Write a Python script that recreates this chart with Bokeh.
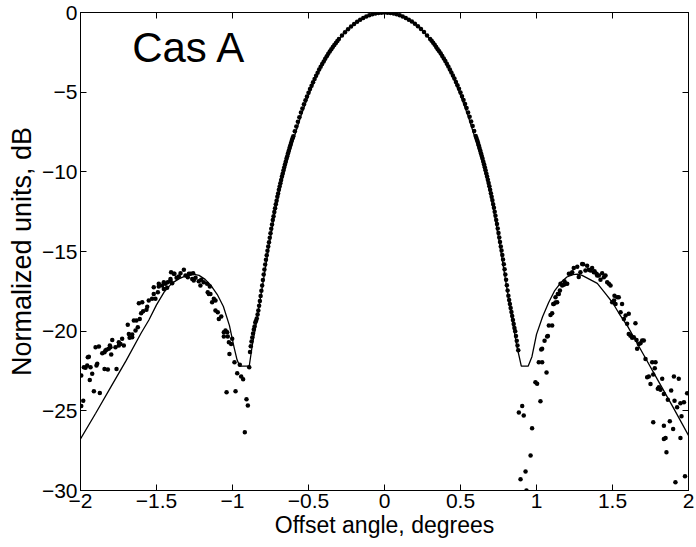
from bokeh.plotting import figure
from bokeh.models import (LinearAxis, FixedTicker, CustomJSTickFormatter, Range1d, Label,
                          CustomLabelingPolicy)
from bokeh.embed import file_html
from bokeh.resources import INLINE

# ---------------- data ----------------
x_ticks = [-2, -1.5, -1, -0.5, 0, 0.5, 1, 1.5, 2]
y_ticks = [-30, -25, -20, -15, -10, -5, 0]

# model beam (solid line)
model_x = [-2.00, -1.90, -1.80, -1.70, -1.60, -1.55, -1.50, -1.45, -1.40, -1.35, -1.30, -1.26,
           -1.22, -1.18, -1.14, -1.10, -1.06, -1.02, -0.99, -0.97, -0.952, -0.89,
           -0.87, -0.84, -0.80, -0.76, -0.72, -0.68, -0.64, -0.60, -0.55, -0.50, -0.45,
           -0.40, -0.35, -0.30, -0.25, -0.20, -0.15, -0.10, -0.05, 0.00,
           0.05, 0.10, 0.15, 0.20, 0.25, 0.30, 0.35, 0.40, 0.45, 0.50, 0.55, 0.60,
           0.64, 0.68, 0.72, 0.76, 0.80, 0.84, 0.87, 0.90,
           0.945, 0.97, 1.00, 1.04, 1.08, 1.12, 1.16, 1.20, 1.24, 1.27, 1.30, 1.35,
           1.40, 1.45, 1.50, 1.55, 1.60, 1.70, 1.80, 1.90, 2.00]
model_y = [-26.76, -25.15, -23.50, -21.85, -20.10, -19.30, -18.35, -17.55, -17.00, -16.70, -16.50, -16.42,
           -16.50, -16.75, -17.15, -17.70, -18.45, -19.65, -21.00, -21.80, -22.20, -22.20,
           -20.90, -19.30, -17.00, -14.65, -12.50, -10.75, -9.30, -8.00, -6.50, -5.20, -4.05,
           -3.10, -2.32, -1.68, -1.14, -0.72, -0.40, -0.18, -0.03, 0.00,
           -0.03, -0.18, -0.40, -0.72, -1.14, -1.68, -2.32, -3.10, -4.05, -5.20, -6.50, -8.00,
           -9.30, -10.75, -12.50, -14.65, -17.00, -19.30, -20.90, -22.20,
           -22.20, -21.60, -20.20, -19.10, -18.20, -17.45, -16.95, -16.60, -16.45, -16.42, -16.50, -16.75,
           -17.00, -17.60, -18.20, -19.00, -19.70, -21.40, -23.10, -24.80, -26.55]

# measured points: main lobe, right half
lobe_r_x = [0.00, 0.02, 0.04, 0.06, 0.08, 0.10, 0.12, 0.14, 0.16, 0.18, 0.20, 0.22, 0.24, 0.26, 0.28,
            0.30, 0.31, 0.32, 0.33, 0.34, 0.35, 0.36, 0.37, 0.38, 0.39, 0.40, 0.41, 0.42, 0.43, 0.44,
            0.45, 0.46, 0.47, 0.48, 0.49, 0.50, 0.51, 0.52, 0.53, 0.54, 0.55, 0.56, 0.57, 0.58, 0.59,
            0.60, 0.605, 0.61, 0.615, 0.62, 0.625, 0.63, 0.635, 0.64, 0.645, 0.65, 0.655, 0.66, 0.665,
            0.67, 0.675, 0.68, 0.685, 0.69, 0.695, 0.70, 0.705, 0.71, 0.715, 0.72, 0.725, 0.73, 0.735,
            0.74, 0.745, 0.75, 0.755, 0.76, 0.765, 0.77, 0.775, 0.78, 0.785, 0.79, 0.795, 0.80, 0.805,
            0.81, 0.815, 0.82, 0.825, 0.83, 0.835, 0.84, 0.845, 0.85, 0.855, 0.86, 0.865, 0.87, 0.875, 0.88]
lobe_r_y = [0.00, -0.01, -0.03, -0.06, -0.11, -0.17, -0.25, -0.34, -0.45, -0.57, -0.71, -0.87, -1.04, -1.23, -1.44,
            -1.66, -1.78, -1.90, -2.03, -2.16, -2.30, -2.43, -2.58, -2.73, -2.89, -3.05, -3.22, -3.39, -3.57, -3.76,
            -3.95, -4.15, -4.36, -4.57, -4.79, -5.02, -5.25, -5.49, -5.74, -6.00, -6.27, -6.55, -6.84, -7.13, -7.44,
            -7.75, -7.88, -8.02, -8.18, -8.33, -8.50, -8.66, -8.83, -9.00, -9.17, -9.35, -9.53, -9.71, -9.90,
            -10.10, -10.29, -10.49, -10.70, -10.90, -11.12, -11.34, -11.56, -11.79, -12.03, -12.26, -12.51, -12.76, -13.02,
            -13.28, -13.56, -13.84, -14.12, -14.40, -14.68, -14.94, -15.22, -15.50, -15.80, -16.11, -16.44, -16.77, -17.12,
            -17.45, -17.78, -18.05, -18.30, -18.55, -18.80, -19.05, -19.30, -19.55, -19.80, -20.00, -20.30, -20.60, -20.90, -21.20]

# measured points: main lobe, left half
lobe_l_x = [-0.02, -0.04, -0.06, -0.08, -0.10, -0.12, -0.14, -0.16, -0.18, -0.20, -0.22, -0.24, -0.26, -0.28,
            -0.30, -0.31, -0.32, -0.33, -0.34, -0.35, -0.36, -0.37, -0.38, -0.39, -0.40, -0.41, -0.42, -0.43, -0.44,
            -0.45, -0.46, -0.47, -0.48, -0.49, -0.50, -0.51, -0.52, -0.53, -0.54, -0.55, -0.56, -0.57, -0.58, -0.59,
            -0.60, -0.605, -0.61, -0.615, -0.62, -0.625, -0.63, -0.635, -0.64, -0.645, -0.65, -0.655, -0.66, -0.665,
            -0.67, -0.675, -0.68, -0.685, -0.69, -0.695, -0.70, -0.705, -0.71, -0.715, -0.72, -0.725, -0.73, -0.735,
            -0.74, -0.745, -0.75, -0.755, -0.76, -0.765, -0.77, -0.775, -0.78, -0.785, -0.79, -0.795, -0.80, -0.805,
            -0.81, -0.815, -0.82, -0.825, -0.83, -0.835, -0.84, -0.845, -0.85, -0.855, -0.86, -0.865, -0.87, -0.875,
            -0.88, -0.885, -0.89]
lobe_l_y = [-0.01, -0.03, -0.07, -0.11, -0.18, -0.25, -0.35, -0.45, -0.58, -0.72, -0.88, -1.05, -1.24, -1.45,
            -1.67, -1.79, -1.92, -2.04, -2.17, -2.31, -2.45, -2.59, -2.75, -2.90, -3.07, -3.23, -3.41, -3.58, -3.78,
            -3.97, -4.17, -4.37, -4.59, -4.80, -5.04, -5.27, -5.50, -5.76, -6.02, -6.28, -6.57, -6.85, -7.15, -7.45,
            -7.77, -7.90, -8.04, -8.19, -8.35, -8.51, -8.68, -8.84, -9.02, -9.18, -9.37, -9.54, -9.73, -9.92,
            -10.12, -10.30, -10.51, -10.71, -10.92, -11.13, -11.36, -11.57, -11.81, -12.04, -12.28, -12.52, -12.78, -13.03,
            -13.30, -13.57, -13.86, -14.13, -14.42, -14.69, -14.96, -15.23, -15.52, -15.81, -16.13, -16.45, -16.79, -17.13,
            -17.47, -17.80, -18.10, -18.40, -18.70, -18.95, -19.20, -19.35, -19.45, -19.70, -19.90, -20.15, -20.40, -20.65,
            -20.95, -21.30, -22.27]

# measured points: left side lobe and null
side_l_x = [-1.995, -1.995, -1.982, -1.978, -1.967, -1.956, -1.952, -1.945, -1.939, -1.934, -1.923, -1.912,
            -1.901, -1.895, -1.890, -1.879, -1.873, -1.857, -1.842, -1.842, -1.836, -1.829, -1.820, -1.814,
            -1.807, -1.803, -1.798, -1.791, -1.770, -1.763, -1.748, -1.748, -1.737, -1.726, -1.715, -1.689,
            -1.682, -1.677, -1.660, -1.660, -1.649, -1.638, -1.632, -1.623, -1.616, -1.610, -1.601, -1.594,
            -1.588, -1.566, -1.561, -1.551, -1.529, -1.518, -1.518, -1.507, -1.491, -1.485, -1.485, -1.463,
            -1.452, -1.452, -1.441, -1.430, -1.426, -1.408, -1.408, -1.404, -1.397, -1.386, -1.382, -1.368,
            -1.353, -1.342, -1.320, -1.309, -1.294, -1.287, -1.276, -1.265, -1.259, -1.255, -1.243, -1.222,
            -1.211, -1.206, -1.189, -1.167, -1.163, -1.156, -1.149, -1.145, -1.134, -1.123, -1.112, -1.112,
            -1.097, -1.090, -1.074, -1.057, -1.057, -1.046, -1.039, -1.035, -1.031, -1.024, -1.020, -1.009,
            -1.002, -0.987, -0.980, -0.969, -0.952, -0.943, -0.930, -0.919, -0.908, -0.899]
side_l_y = [-22.79, -24.70, -24.36, -22.27, -22.30, -22.16, -21.64, -21.60, -23.06, -22.27, -22.68, -23.77,
            -21.01, -22.16, -22.05, -20.97, -23.88, -21.39, -22.37, -21.32, -21.22, -21.17, -22.41, -21.11,
            -20.90, -21.01, -21.47, -20.55, -21.01, -22.37, -20.70, -20.90, -20.80, -20.48, -20.90, -19.59,
            -20.17, -20.42, -20.21, -20.38, -19.33, -19.96, -19.33, -19.75, -18.25, -19.23, -18.88, -18.19,
            -18.75, -18.66, -18.46, -18.08, -17.97, -17.66, -17.24, -17.97, -17.56, -17.20, -17.03, -17.14,
            -17.35, -16.93, -17.03, -17.28, -16.93, -16.82, -16.72, -16.30, -16.99, -16.40, -16.40, -16.65,
            -16.57, -16.36, -16.15, -16.51, -16.61, -16.40, -16.40, -16.72, -16.36, -16.82, -16.65, -16.87,
            -17.14, -16.78, -16.93, -17.03, -17.56, -17.66, -17.20, -17.66, -18.19, -17.97, -18.08, -18.70,
            -18.81, -19.23, -19.08, -20.07, -20.34, -19.96, -23.83, -20.07, -20.34, -20.70, -21.43, -20.80,
            -20.48, -21.95, -23.77, -22.64, -22.10, -22.85, -23.02, -26.35, -24.27, -24.67]

# measured points: right null and side lobe
side_r_x = [0.884, 0.895, 0.906, 0.916, 0.928, 0.934, 0.961, 0.971, 0.993, 1.004, 1.015, 1.026, 1.031,
            1.037, 1.037, 1.053, 1.066, 1.070, 1.075, 1.081, 1.092, 1.103, 1.103, 1.110, 1.114, 1.125,
            1.125, 1.136, 1.140, 1.147, 1.154, 1.158, 1.169, 1.180, 1.184, 1.191, 1.202, 1.213, 1.224,
            1.235, 1.245, 1.268, 1.278, 1.289, 1.300, 1.307, 1.322, 1.333, 1.344, 1.355, 1.366, 1.377,
            1.382, 1.395, 1.399, 1.410, 1.421, 1.432, 1.443, 1.454, 1.465, 1.476, 1.487, 1.498, 1.510,
            1.513, 1.520, 1.531, 1.541, 1.553, 1.563, 1.575, 1.586, 1.596, 1.607, 1.607, 1.618, 1.629,
            1.640, 1.651, 1.658, 1.662, 1.673, 1.684, 1.695, 1.706, 1.717, 1.728, 1.739, 1.750, 1.761,
            1.768, 1.768, 1.778, 1.783, 1.798, 1.805, 1.816, 1.827, 1.838, 1.838, 1.838, 1.849, 1.855,
            1.864, 1.877, 1.886, 1.899, 1.904, 1.908, 1.914, 1.925, 1.936, 1.947, 1.947, 1.954, 1.970,
            1.977, 1.991]
side_r_y = [-25.10, -29.30, -24.70, -25.30, -28.80, -30.00, -27.80, -26.10, -23.20, -23.30, -21.95, -24.40, -21.15,
            -21.95, -21.10, -20.60, -22.60, -20.34, -20.30, -19.65, -18.98, -18.88, -19.65, -18.30, -18.29, -18.20,
            -17.87, -18.19, -17.66, -17.66, -17.45, -17.03, -17.14, -17.09, -16.87, -17.03, -17.03, -16.40, -16.40,
            -16.30, -16.03, -15.95, -16.60, -16.30, -15.78, -15.80, -16.20, -15.90, -16.15, -16.20, -16.03, -16.30,
            -16.24, -16.40, -16.51, -16.50, -16.78, -16.36, -16.62, -16.50, -16.93, -17.03, -17.14, -18.19, -18.08,
            -17.77, -18.29, -17.87, -17.87, -18.81, -18.29, -19.23, -19.02, -19.54, -18.91, -20.17, -20.28, -20.42,
            -20.38, -19.50, -20.55, -21.11, -20.80, -20.76, -20.59, -20.59, -21.74, -22.89, -22.85, -23.31, -21.95,
            -22.72, -25.72, -22.33, -21.95, -23.62, -23.52, -23.68, -22.99, -23.94, -25.93, -26.76, -26.70, -27.60,
            -24.31, -25.65, -23.73, -26.14, -22.85, -24.36, -29.48, -24.78, -22.99, -24.52, -26.70, -25.34, -24.46,
            -29.10, -23.90]

title_text = "Cas A"
x_label = "Offset angle, degrees"
y_label = "Normalized units, dB"

# ---------------- figure ----------------
FONT = "Liberation Sans"

p = figure(width=696, height=547, x_range=Range1d(-2, 2), y_range=Range1d(-30, 0),
           output_backend="svg", toolbar_location=None,
           min_border_left=80, min_border_right=8, min_border_top=12, min_border_bottom=57)
p.background_fill_color = "white"
p.border_fill_color = "white"
p.outline_line_color = "black"
p.outline_line_width = 1
p.xgrid.visible = False
p.ygrid.visible = False

fmt = CustomJSTickFormatter(code="return String(tick).replace('-', '\u2212');")
hide_all = CustomLabelingPolicy(code="for (const i of indices) { indices.unset(i) }\nreturn indices")


def style_axis(ax, ticks, show_labels):
    ax.ticker = FixedTicker(ticks=ticks)
    ax.major_tick_in = 6
    ax.major_tick_out = 0
    ax.minor_tick_in = 0
    ax.minor_tick_out = 0
    ax.axis_line_color = "black"
    ax.major_tick_line_color = "black"
    ax.major_label_text_font = FONT
    ax.major_label_text_color = "black"
    ax.axis_label_text_font = FONT
    ax.axis_label_text_font_style = "normal"
    ax.axis_label_text_color = "black"
    ax.formatter = fmt
    if show_labels:
        ax.major_label_text_font_size = "21px"
        ax.axis_label_text_font_size = "23px"
        ax.major_label_standoff = 3
        ax.axis_label_standoff = 1
    else:
        ax.major_label_policy = hide_all
        ax.major_label_text_font_size = "1px"
        ax.major_label_standoff = 0
        ax.axis_label_standoff = 0


style_axis(p.xaxis[0], x_ticks, True)
style_axis(p.yaxis[0], y_ticks, True)
p.xaxis[0].axis_label = x_label
p.yaxis[0].axis_label = y_label
p.yaxis[0].axis_label_text_font_size = "27px"
p.yaxis[0].axis_label_standoff = 2

top_ax = LinearAxis()
style_axis(top_ax, x_ticks, False)
p.add_layout(top_ax, "above")
right_ax = LinearAxis()
style_axis(right_ax, y_ticks, False)
p.add_layout(right_ax, "right")

# model line
p.line(model_x, model_y, line_color="black", line_width=1.3)

# measured points
for xs, ys in [(lobe_r_x, lobe_r_y), (lobe_l_x, lobe_l_y), (side_l_x, side_l_y), (side_r_x, side_r_y)]:
    p.scatter(xs, ys, size=4.5, fill_color="black", line_color="black", line_width=0)

p.add_layout(Label(x=-1.66, y=-2.2, text=title_text, text_font=FONT, text_font_size="42px",
                   text_color="black", text_baseline="alphabetic", text_align="left"))

open("out.html", "w").write(file_html(p, INLINE))
